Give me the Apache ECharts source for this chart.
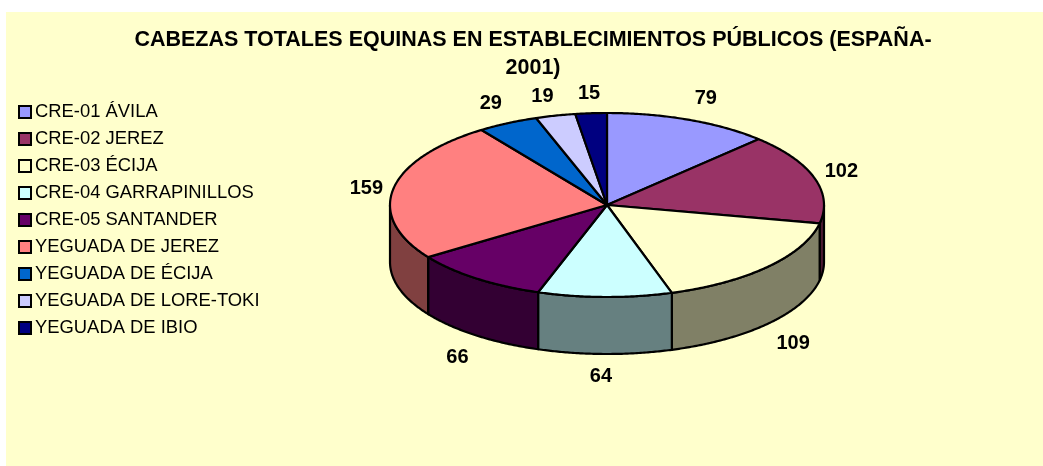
<!DOCTYPE html>
<html>
<head>
<meta charset="utf-8">
<style>html,body{margin:0;padding:0;background:#fff}#c{width:1043px;height:466px}</style>
<script src="https://cdn.jsdelivr.net/npm/echarts@6/dist/echarts.min.js"></script>
</head>
<body>
<div id="c"></div>
<script>
const categories = ['CRE-01 ÁVILA','CRE-02 JEREZ','CRE-03 ÉCIJA','CRE-04 GARRAPINILLOS','CRE-05 SANTANDER','YEGUADA DE JEREZ','YEGUADA DE ÉCIJA','YEGUADA DE LORE-TOKI','YEGUADA DE IBIO'];
const values = [79,102,109,64,66,159,29,19,15];
const topColors = ['#9999FF','#993366','#FFFFCC','#CCFFFF','#660066','#FF8080','#0066CC','#CCCCFF','#000080'];
const wallColors = ['#4D4D80','#4D1A33','#808066','#668080','#330033','#804040','#003366','#666680','#000040'];
const labelOffsets = [[17,-21],[27,-6],[25,77],[-4,79],[-19,79],[-27,0],[-17,-20],[-13,-19],[-2,-20]];
const titleText = 'CABEZAS TOTALES EQUINAS EN ESTABLECIMIENTOS PÚBLICOS (ESPAÑA-\n2001)';

const CX = 607, CY = 205, RX = 217, RY = 92, DEPTH = 57;
const FONT = '"Liberation Sans", Arial, sans-serif';
const total = values.reduce((a, b) => a + b, 0);
const rim = (deg, drop) => {
  const t = deg * Math.PI / 180;
  return [CX + RX * Math.sin(t), CY - RY * Math.cos(t) + (drop || 0)];
};
const arcPoints = (from, to, drop) => {
  const pts = [], n = Math.max(2, Math.ceil(Math.abs(to - from) * 2));
  for (let i = 0; i <= n; i++) pts.push(rim(from + (to - from) * i / n, drop));
  return pts;
};
const stroke = { stroke: '#000', lineWidth: 2.2, lineJoin: 'round' };

let cum = 0;
const series = categories.map((name, i) => {
  const start = cum;
  cum += values[i];
  return {
    type: 'custom',
    name,
    coordinateSystem: 'none',
    itemStyle: { color: topColors[i] },
    silent: true,
    data: [[start, values[i]]],
    renderItem: (params, api) => {
      const a0 = api.value(0) / total * 360;
      const a1 = (api.value(0) + api.value(1)) / total * 360;
      const mid = (a0 + a1) / 2;
      const children = [];
      const w0 = Math.max(a0, 90), w1 = Math.min(a1, 270);
      if (w1 > w0) {
        children.push({
          type: 'polygon',
          z2: 1,
          shape: { points: arcPoints(w0, w1, 0).concat(arcPoints(w1, w0, DEPTH)) },
          style: Object.assign({ fill: wallColors[i] }, stroke)
        });
      }
      children.push({
        type: 'polygon',
        z2: 2,
        shape: { points: [[CX, CY]].concat(arcPoints(a0, a1, 0)) },
        style: Object.assign({ fill: topColors[i] }, stroke)
      });
      const p = rim(mid, 0);
      children.push({
        type: 'text',
        z2: 3,
        x: p[0] + labelOffsets[i][0],
        y: p[1] + labelOffsets[i][1],
        style: {
          text: String(api.value(1)),
          fill: '#000',
          font: 'bold 20px ' + FONT,
          textAlign: 'center',
          textVerticalAlign: 'middle'
        }
      });
      return { type: 'group', children };
    }
  };
});

const chart = echarts.init(document.getElementById('c'), null, { renderer: 'canvas' });
chart.setOption({
  animation: false,
  backgroundColor: '#fff',
  graphic: [{
    type: 'rect', z: -10, silent: true,
    shape: { x: 6, y: 12, width: 1037, height: 454 },
    style: { fill: '#FFFFCC' }
  }],
  title: {
    text: titleText,
    left: 533, top: 26, padding: 0, textAlign: 'center',
    textStyle: { color: '#000', fontFamily: FONT, fontSize: 21.5, fontWeight: 'bold', lineHeight: 28 }
  },
  legend: {
    orient: 'vertical', left: 18, top: 103, padding: 0,
    itemWidth: 12, itemHeight: 12, itemGap: 9, icon: 'rect',
    selectedMode: false,
    data: categories,
    textStyle: { color: '#000', fontFamily: FONT, fontSize: 18.4, lineHeight: 18, padding: [0, 0, 0, -1] },
    itemStyle: { borderColor: '#000', borderWidth: 2 }
  },
  series
});
</script>
</body>
</html>
